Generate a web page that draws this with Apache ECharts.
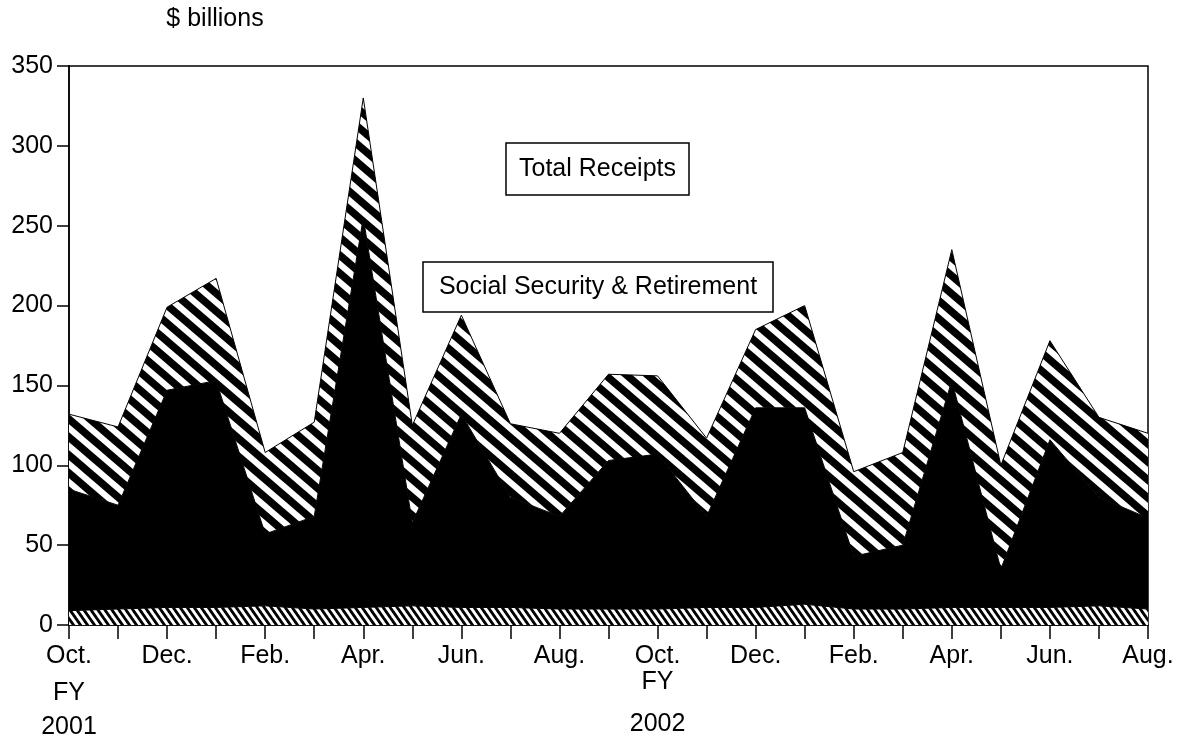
<!DOCTYPE html>
<html>
<head>
<meta charset="utf-8">
<script src="https://cdn.jsdelivr.net/npm/echarts@6/dist/echarts.min.js"></script>
<style>
  html, body { margin: 0; padding: 0; background: #fff; }
  #chart { width: 1184px; height: 743px; }
</style>
</head>
<body>
<div id="chart"></div>
<script>
// months, Oct. 2000 .. Aug. 2002
const months = [
  'Oct. 2000', 'Nov. 2000', 'Dec. 2000', 'Jan. 2001', 'Feb. 2001', 'Mar. 2001',
  'Apr. 2001', 'May 2001', 'Jun. 2001', 'Jul. 2001', 'Aug. 2001', 'Sep. 2001',
  'Oct. 2001', 'Nov. 2001', 'Dec. 2001', 'Jan. 2002', 'Feb. 2002', 'Mar. 2002',
  'Apr. 2002', 'May 2002', 'Jun. 2002', 'Jul. 2002', 'Aug. 2002'
]
// fiscal year marks under the first month of each FY
const fiscalYears = { 'Oct. 2000': '2001', 'Oct. 2001': '2002' }

// $ billions, stacked bottom to top
const otherTaxes = [9, 10, 11, 11, 12, 10, 11, 12, 11, 11, 10, 10, 10, 11, 11, 13, 10, 10, 11, 11, 11, 12, 10]
const incomeTaxes = [76, 65, 136, 142, 45, 58, 244, 52, 121, 69, 58, 93, 97, 57, 125, 123, 33, 40, 142, 24, 105, 68, 57]
const socialSecurity = [47, 49, 52, 64, 51, 59, 75, 61, 62, 46, 52, 54, 49, 49, 49, 64, 53, 58, 82, 65, 62, 50, 53]

const yTicks = [0, 50, 100, 150, 200, 250, 300, 350]

const FONT = 'Liberation Sans, Arial, sans-serif'

// 斜线填充图案 (w x h 一格, 线从左上到右下)
function hatch (w, h, width) {
  const c = document.createElement('canvas')
  c.width = w
  c.height = h
  const g = c.getContext('2d')
  g.fillStyle = '#fff'
  g.fillRect(0, 0, w, h)
  g.strokeStyle = '#000'
  g.lineWidth = width
  const dx = w / h
  for (const o of [-w, 0, w]) {
    g.beginPath()
    g.moveTo(o - 4 * dx, -4)
    g.lineTo(o + w + 4 * dx, h + 4)
    g.stroke()
  }
  return c
}

const wideStripes = hatch(21, 18, 7.5)
const fineStripes = hatch(7, 10, 2.8)

const myChart = echarts.init(document.getElementById('chart'))

// 标注框
function labelBox (text, x, y, w, h) {
  return {
    type: 'group',
    z: 100,
    children: [
      {
        type: 'rect',
        shape: { x: x, y: y, width: w, height: h },
        style: { fill: '#fff', stroke: '#000', lineWidth: 1.5 }
      },
      {
        type: 'text',
        x: x + w / 2,
        y: y + h / 2,
        style: {
          text: text,
          fontSize: 25,
          fontFamily: FONT,
          fill: '#000',
          align: 'center',
          verticalAlign: 'middle'
        }
      }
    ]
  }
}

const lineStyle = { color: '#000', width: 1 }

const options = {
  animation: false,
  backgroundColor: '#fff',
  grid: {
    left: 69,
    right: 36,
    top: 66,
    bottom: 118,
    show: true,
    borderColor: '#000',
    borderWidth: 1.5
  },
  xAxis: {
    type: 'category',
    boundaryGap: false,
    data: months,
    axisLine: { lineStyle: { color: '#000', width: 1.5 } },
    axisTick: { interval: 0, length: 14, lineStyle: { color: '#000', width: 1.5 } },
    axisLabel: {
      interval: 1,
      margin: 17,
      color: '#000',
      fontFamily: FONT,
      fontSize: 25,
      formatter: value => {
        const m = value.split(' ')[0]
        if (value === 'Oct. 2000') return `{m|${m}}\n{f1|FY}\n{y1|${fiscalYears[value]}}`
        if (value === 'Oct. 2001') return `{m|${m}}\n{f2|FY}\n{y2|${fiscalYears[value]}}`
        return `{m|${m}}`
      },
      rich: {
        m: { fontSize: 25, fontFamily: FONT, color: '#000', lineHeight: 28 },
        f1: { fontSize: 25, fontFamily: FONT, color: '#000', lineHeight: 46 },
        y1: { fontSize: 25, fontFamily: FONT, color: '#000', lineHeight: 22 },
        f2: { fontSize: 25, fontFamily: FONT, color: '#000', lineHeight: 24 },
        y2: { fontSize: 25, fontFamily: FONT, color: '#000', lineHeight: 60 }
      }
    },
    splitLine: { show: false }
  },
  yAxis: {
    type: 'value',
    min: yTicks[0],
    max: yTicks[yTicks.length - 1],
    interval: 50,
    axisLine: { show: true, lineStyle: { color: '#000', width: 1.5 } },
    axisTick: { show: true, length: 12, lineStyle: { color: '#000', width: 1.5 } },
    axisLabel: { color: '#000', fontFamily: FONT, fontSize: 25, margin: 16 },
    splitLine: { show: false }
  },
  series: [
    {
      name: 'Other Taxes and Receipts',
      type: 'line',
      stack: 'receipts',
      symbol: 'none',
      data: otherTaxes,
      lineStyle,
      areaStyle: { color: { image: fineStripes, repeat: 'repeat' }, opacity: 1 }
    },
    {
      name: 'Income Taxes',
      type: 'line',
      stack: 'receipts',
      symbol: 'none',
      data: incomeTaxes,
      lineStyle,
      areaStyle: { color: '#000', opacity: 1 }
    },
    {
      name: 'Social Security & Retirement',
      type: 'line',
      stack: 'receipts',
      symbol: 'none',
      data: socialSecurity,
      lineStyle,
      areaStyle: { color: { image: wideStripes, repeat: 'repeat' }, opacity: 1 }
    }
  ],
  graphic: [
    {
      type: 'text',
      x: 215,
      y: 19,
      style: {
        text: '$ billions',
        fontSize: 25,
        fontFamily: FONT,
        fill: '#000',
        align: 'center',
        verticalAlign: 'middle'
      }
    },
    labelBox('Total Receipts', 506, 143, 183, 52),
    labelBox('Social Security & Retirement', 423, 262, 350, 50),
    labelBox('Income Taxes', 507, 517, 176, 44),
    labelBox('Other Taxes and Receipts', 443, 581, 318, 43)
  ]
}

myChart.setOption(options)
</script>
</body>
</html>
